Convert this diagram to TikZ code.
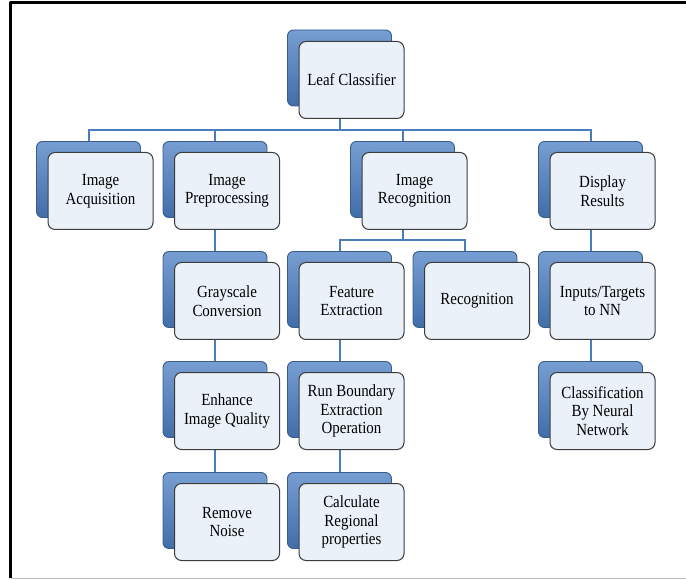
\documentclass[tikz,border=0pt]{standalone}
\usepackage{fontspec}
\setmainfont{Liberation Serif}[FakeStretch=0.88]
\usetikzlibrary{calc,positioning}
\pgfdeclarelayer{background}
\pgfsetlayers{background,main}

\definecolor{bluetop}{HTML}{779ED2}
\definecolor{bluebot}{HTML}{416DAA}
\definecolor{blueedge}{HTML}{385C8C}
\definecolor{frontfill}{HTML}{EBF1F9}
\definecolor{frontedge}{HTML}{3C3C3C}
\definecolor{connblue}{HTML}{4A7EBB}

\begin{document}
\begin{tikzpicture}[
		x=1pt,
		y=-1pt,
		line cap=round,
		line join=round,
		backbox/.style={draw=blueedge, line width=0.9pt, rounded corners=6pt,
			top color=bluetop, bottom color=bluebot,
			minimum width=104pt, minimum height=76pt, inner sep=0pt},
		frontbox/.style={draw=frontedge, line width=1pt, rounded corners=7pt,
			fill=frontfill, minimum width=105pt, minimum height=77pt,
			inner sep=0pt, align=center,
			font=\fontsize{17}{18.5}\selectfont},
		conn/.style={draw=connblue, line width=2pt}
		]
		
		\useasboundingbox (0,0) rectangle (686,580);
		
		%------------------------------------------------------------------
		% Frame
		%------------------------------------------------------------------
		\draw[line width=3pt, black, line cap=butt] (10,578) -- (10,3) -- (686,3);
		\draw[line width=1.2pt, black!25, line cap=butt] (11,578.5) -- (686,578.5);
		
		%------------------------------------------------------------------
		% Bus coordinates
		%------------------------------------------------------------------
		\coordinate (topBus) at (0,130);
		\coordinate (recBus) at (0,240);
		
		%------------------------------------------------------------------
		% Root
		%------------------------------------------------------------------
		\node[backbox] (leafB) at (339.5, 68) {};
		\node[frontbox] (leaf) at ([shift={(12,12)}]leafB.center) {Leaf Classifier};
		
		%------------------------------------------------------------------
		% First level
		%------------------------------------------------------------------
		\node[backbox] (acqB)   at ( 88.5,179.5) {};
		\node[frontbox] (acq)   at ([shift={(12,11.5)}]acqB.center) {Image\\Acquisition};
		
		\node[backbox] (prepB)  at (215.0,179.5) {};
		\node[frontbox] (prep)  at ([shift={(12,11.5)}]prepB.center) {Image\\Preprocessing};
		
		\node[backbox] (recogB) at (402.5,179.5) {};
		\node[frontbox] (recog) at ([shift={(12,11.5)}]recogB.center) {Image\\Recognition};
		
		\node[backbox] (dispB)  at (590.5,179.5) {};
		\node[frontbox] (disp)  at ([shift={(12,11.5)}]dispB.center) {Display\\Results};
		
		%------------------------------------------------------------------
		% Preprocessing column
		%------------------------------------------------------------------
		\node[backbox] (grayB)  at (215.0,289.5) {};
		\node[frontbox] (gray)  at ([shift={(12,11.5)}]grayB.center) {Grayscale\\Conversion};
		
		\node[backbox] (enhB)   at (215.0,399.5) {};
		\node[frontbox] (enh)   at ([shift={(12,11.5)}]enhB.center) {Enhance\\Image Quality};
		
		\node[backbox] (noiseB) at (215.0,510.5) {};
		\node[frontbox] (noise) at ([shift={(12,11.5)}]noiseB.center) {Remove\\Noise};
		
		%------------------------------------------------------------------
		% Recognition branch
		%------------------------------------------------------------------
		\node[backbox] (featB)  at (339.5,289.5) {};
		\node[frontbox] (feat)  at ([shift={(12,11.5)}]featB.center) {Feature\\Extraction};
		
		\node[backbox] (recB)   at (465.0,289.5) {};
		\node[frontbox] (rec)   at ([shift={(12,11.5)}]recB.center) {Recognition};
		
		\node[backbox] (boundB) at (339.5,399.5) {};
		\node[frontbox] (bound) at ([shift={(12,11.5)}]boundB.center) {Run Boundary\\Extraction\\Operation};
		
		\node[backbox] (calcB)  at (339.5,510.5) {};
		\node[frontbox] (calc)  at ([shift={(12,11.5)}]calcB.center) {Calculate\\Regional\\properties};
		
		%------------------------------------------------------------------
		% Display column
		%------------------------------------------------------------------
		\node[backbox] (nnB)    at (590.5,289.5) {};
		\node[frontbox] (nn)    at ([shift={(12,11.5)}]nnB.center) {Inputs/Targets\\to NN};
		
		\node[backbox] (classB) at (590.5,399.5) {};
		\node[frontbox] (class) at ([shift={(12,11.5)}]classB.center) {Classification\\By Neural\\Network};
		
		%------------------------------------------------------------------
		% Connectors (behind the boxes)
		%------------------------------------------------------------------
		\begin{pgfonlayer}{background}
			\foreach \c in {acqB,prepB,recogB,dispB}
			\draw[conn] (leafB.center) |- (topBus -| \c.center) -- (\c.center);
			
			\foreach \c in {featB,recB}
			\draw[conn] (recogB.center) |- (recBus -| \c.center) -- (\c.center);
			
			\draw[conn] (prepB.center) -- (grayB.center) -- (enhB.center) -- (noiseB.center);
			\draw[conn] (featB.center) -- (boundB.center) -- (calcB.center);
			\draw[conn] (dispB.center) -- (nnB.center) -- (classB.center);
		\end{pgfonlayer}
		
	\end{tikzpicture}
\end{document}
